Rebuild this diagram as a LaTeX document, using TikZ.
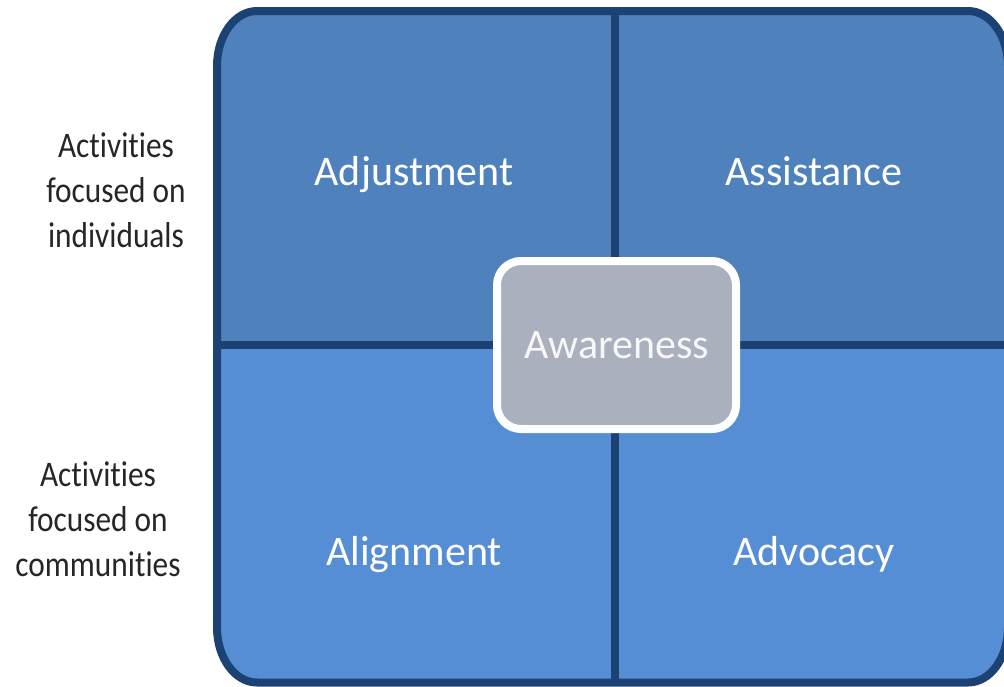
\documentclass[tikz,border=0pt]{standalone}
\usepackage{fontspec}
\setmainfont{Carlito}[Ligatures=NoCommon]
\newfontfamily\sidefont{Carlito}[FakeStretch=0.87,Ligatures=NoCommon]
\definecolor{topblue}{HTML}{4F81BD}
\definecolor{botblue}{HTML}{558ED5}
\definecolor{framecol}{HTML}{1C4273}
\definecolor{awgray}{HTML}{ABB0BE}
\begin{document}
\begin{tikzpicture}[x=1pt,y=-1pt,
  quad/.style={text=white,font=\fontsize{42}{50}\selectfont,anchor=base,inner sep=0pt},
  side/.style={align=center,font=\sidefont\fontsize{36}{45}\selectfont,text=black!85,inner sep=0pt},
  divider/.style={framecol,line width=8pt},
  awbox/.style={draw=white,line width=8pt,fill=awgray,rounded corners=24pt,
    minimum width=239pt,minimum height=168pt,inner sep=0pt,text=white!94!gray,
    font=\fontsize{42}{50}\selectfont}]
\useasboundingbox (0,0) rectangle (1004,686);
\def\framepath{(257,11) -- (968,11) arc[start angle=-90,end angle=0,x radius=40,y radius=55]
  -- (1008,627.5) arc[start angle=0,end angle=90,x radius=40,y radius=55]
  -- (257,682.5) arc[start angle=90,end angle=180,x radius=40,y radius=55]
  -- (217,66) arc[start angle=180,end angle=270,x radius=40,y radius=55] -- cycle}
% quadrant fills
\begin{scope}
  \clip \framepath;
  \fill[topblue] (217,11) rectangle (1008,344);
  \fill[botblue] (217,344) rectangle (1008,682.5);
\end{scope}
% dividers
\coordinate (vt) at (615,11);
\coordinate (vb) at (615,682.5);
\coordinate (hl) at (217,344.5);
\coordinate (hr) at (1008,344.5);
\draw[divider] (vt) -- (vb);
\draw[divider] (hl) -- (hr);
% outer frame
\draw[framecol,line width=8pt] \framepath;
% quadrant labels
\node[quad] (adj) at (414,185) {Adjustment};
\node[quad] (ass) at (814,185) {Assistance};
\node[quad] (ali) at (414,565) {Alignment};
\node[quad] (adv) at (814,565) {Advocacy};
% centre box
\node[awbox] (aw) at (616.5,345) {Awareness};
% side labels
\node[side] (ind) at (116,190) {Activities\\focused on\\individuals};
\node[side] (com) at (98,519) {Activities\\focused on\\communities};
\end{tikzpicture}
\end{document}
